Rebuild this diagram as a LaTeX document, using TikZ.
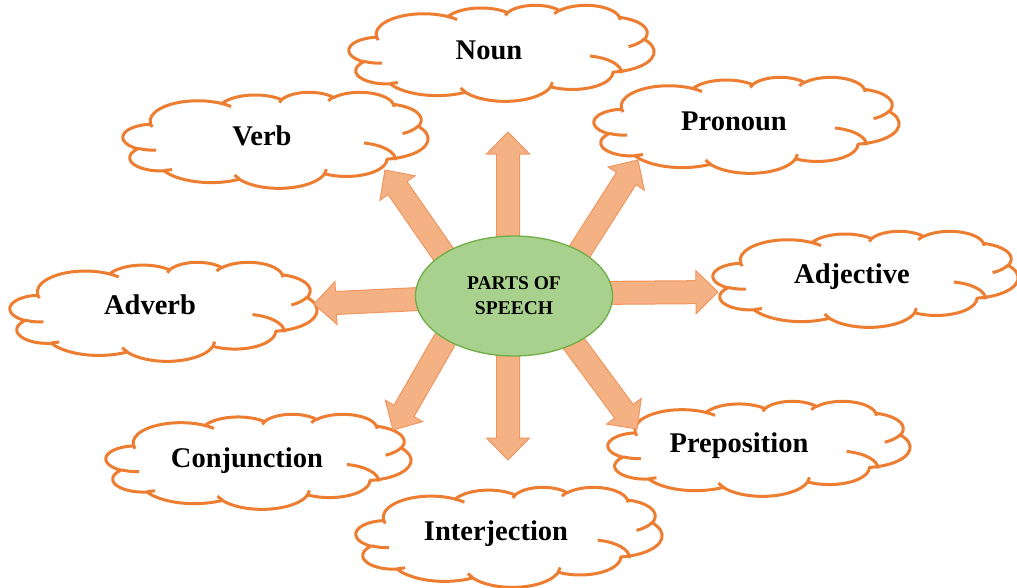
\documentclass[tikz,border=0pt]{standalone}
\usepackage{fontspec}
\setmainfont{Liberation Serif}
\usetikzlibrary{calc,shapes.geometric}

\definecolor{cloudline}{HTML}{ED7D31}
\definecolor{arrowfill}{HTML}{F4B183}
\definecolor{arrowline}{HTML}{F0965F}
\definecolor{hubfill}{HTML}{A9D18E}
\definecolor{hubline}{HTML}{70AD47}

% Elliptic arc given by radii and visual (true) angles, as in DrawingML arcTo.
% The visual angles are turned into the parametric angles TikZ expects.
\newcommand\oarc[4]{%
  \pgfextra{%
    \pgfmathsetmacro\oarcTmp{atan2(sin(#3)*#1, cos(#3)*#2)}\global\let\oarcA\oarcTmp
    \pgfmathsetmacro\oarcTmp{atan2(sin(#3+#4)*#1, cos(#3+#4)*#2)-\oarcA}%
    \pgfmathsetmacro\oarcTmp{\oarcTmp>180 ? \oarcTmp-360 : (\oarcTmp<-180 ? \oarcTmp+360 : \oarcTmp)}%
    \global\let\oarcD\oarcTmp}%
  arc[start angle=\oarcA, delta angle=\oarcD, x radius=#1, y radius=#2]}

% Cloud outline in a 432 x 432 box, placed at (x0,y0) with width w and height h
\newcommand\cloudat[4]{%
  \pgfmathsetmacro\cloudsx{#3/432}%
  \pgfmathsetmacro\cloudsy{#4/432}%
  \begin{scope}[shift={(#1,#2)}, x=\cloudsx pt, y=-\cloudsy pt]
    \draw[cloudstroke, fill=white] (39.00,143.70)
      \oarc{67.53}{91.90}{-190.4875}{123.7805}
      \oarc{53.33}{72.67}{-144.1024}{89.9452}
      \oarc{43.65}{59.45}{-145.8079}{99.7230}
      \oarc{48.57}{65.95}{-130.9861}{117.2417}
      \oarc{53.33}{72.73}{-78.7089}{109.0269}
      \oarc{67.75}{92.20}{-46.2673}{130.2690}
      \oarc{57.85}{78.67}{0.6250}{114.0333}
      \oarc{67.52}{92.15}{22.4516}{115.1726}
      \oarc{77.20}{105.43}{66.2426}{75.7110}
      \oarc{43.60}{59.18}{-274.9421}{146.7356}
      \oarc{43.45}{59.45}{-246.8285}{152.5189}
      -- cycle;
    \draw[cloudstroke]
      (46.93,261.77) \oarc{43.45}{59.45}{86.7420}{26.4295}
      (69.28,348.99) \oarc{43.60}{59.18}{73.6105}{11.4475}
      (164.78,390.90) \oarc{67.52}{92.15}{137.6242}{14.0811}
      (288.27,347.51) \oarc{67.52}{92.15}{6.4533}{15.9984}
      (341.29,229.54) \oarc{57.85}{78.67}{-80.4166}{81.0416}
      (417.98,153.54) \oarc{53.33}{72.73}{30.4209}{36.3155}
      (383.24,54.26) \oarc{48.57}{65.95}{-13.7443}{14.8560}
      (290.78,39.52) \oarc{48.57}{65.95}{-149.1815}{18.1981}
      (221.41,47.20) \oarc{43.65}{59.45}{-163.4943}{17.6864}
      (140.00,51.92) \oarc{67.53}{91.90}{-66.7070}{12.3194}
      (41.27,157.89) \oarc{67.53}{91.90}{157.6544}{11.8539};
  \end{scope}}

% Block arrow from a tail point to a tip point
\newcommand\blockarrow[2]{%
  \path[blockarrow] let \p1=(#1), \p2=(#2),
      \n1={atan2((\y2)-(\y1),(\x2)-(\x1))} in
    ($(\p1)+(\n1+90:11.5pt)$)
    -- ($(\p2)+(\n1:-22pt)+(\n1+90:11.5pt)$)
    -- ($(\p2)+(\n1:-22pt)+(\n1+90:21.5pt)$)
    -- (\p2)
    -- ($(\p2)+(\n1:-22pt)+(\n1-90:21.5pt)$)
    -- ($(\p2)+(\n1:-22pt)+(\n1-90:11.5pt)$)
    -- ($(\p1)+(\n1-90:11.5pt)$) -- cycle;}

\tikzset{
  cloudstroke/.style={draw=cloudline, line width=3pt, line join=round},
  cloudtext/.style={anchor=base, inner sep=0pt, font=\bfseries\fontsize{28.5}{30}\selectfont},
  blockarrow/.style={draw=arrowline, fill=arrowfill, line width=1pt, line join=miter},
  hub/.style={ellipse, draw=hubline, fill=hubfill, line width=1.3pt,
    minimum width=197pt, minimum height=120pt, inner sep=0pt, align=center,
    font=\bfseries\fontsize{19.5}{25}\selectfont},
}

\begin{document}
\begin{tikzpicture}[x=1pt, y=-1pt]
  \useasboundingbox (0,0) rectangle (1017,587);

  % clouds
  \cloudat{349}{5}{305}{96}
  \cloudat{123}{92}{305}{96}
  \cloudat{594}{77}{305}{96}
  \cloudat{713}{231}{305}{96}
  \cloudat{10}{262}{307}{99}
  \cloudat{106}{414}{305}{95}
  \cloudat{608}{401}{302}{95}
  \cloudat{356}{487}{306}{100}

  % cloud labels
  \node[cloudtext] (noun)  at (489,59)  {Noun};
  \node[cloudtext] (verb)  at (262,145) {Verb};
  \node[cloudtext] (pron)  at (734,130) {Pronoun};
  \node[cloudtext] (adj)   at (852,283) {Adjective};
  \node[cloudtext] (adv)   at (150,314) {Adverb};
  \node[cloudtext] (conj)  at (247,467) {Conjunction};
  \node[cloudtext] (prep)  at (739,452) {Preposition};
  \node[cloudtext] (inter) at (496,540) {Interjection};

  % arrow tails (under the hub) and tips
  \coordinate (tN)  at (508,250); \coordinate (hN)  at (508,132);
  \coordinate (tS)  at (508,340); \coordinate (hS)  at (508,460);
  \coordinate (tE)  at (590,293); \coordinate (hE)  at (718,292);
  \coordinate (tW)  at (440,298); \coordinate (hW)  at (314,304);
  \coordinate (tNW) at (460,278); \coordinate (hNW) at (385,170);
  \coordinate (tNE) at (564,276); \coordinate (hNE) at (638,160);
  \coordinate (tSW) at (458,317); \coordinate (hSW) at (393,430);
  \coordinate (tSE) at (558,322); \coordinate (hSE) at (637,429);

  \blockarrow{tN}{hN}
  \blockarrow{tS}{hS}
  \blockarrow{tE}{hE}
  \blockarrow{tW}{hW}
  \blockarrow{tNW}{hNW}
  \blockarrow{tNE}{hNE}
  \blockarrow{tSW}{hSW}
  \blockarrow{tSE}{hSE}

  % centre
  \node[hub] (pos) at (514,296) {PARTS OF\\SPEECH};
\end{tikzpicture}
\end{document}
